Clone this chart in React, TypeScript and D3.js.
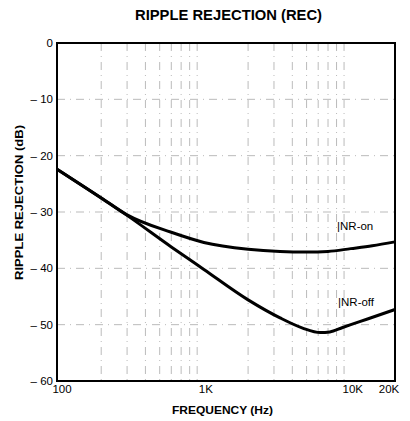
import { useCallback, useEffect, useRef } from "react";
import * as d3 from "d3";

// readings taken from the scanned chart
const nrOnFreq = [100, 200, 300, 600, 1000, 2000, 3300, 5000, 7000, 10000, 14000, 20000];
const nrOnDb = [-22.4, -27.5, -30.5, -33.6, -35.4, -36.6, -37, -37.1, -37, -36.5, -36, -35.3];

const nrOffFreq = [100, 200, 300, 600, 1000, 2000, 3300, 4700, 6200, 7200, 8800, 10000, 13000, 20000];
const nrOffDb = [-22.4, -27.5, -30.6, -36.2, -40.2, -45.6, -48.8, -50.6, -51.4, -51.3, -50.5, -50.0, -49.0, -47.3];

const yTicks = [0, -10, -20, -30, -40, -50, -60];
const yTickLabels = ["0", "– 10", "– 20", "– 30", "– 40", "– 50", "– 60"];
const xTicks = [100, 1000, 10000, 20000];
const xTickLabels = ["100", "1K", "10K", "20K"];
const gridFreqs = [200, 300, 400, 500, 600, 700, 800, 900, 2000, 3000, 4000, 5000, 6000, 7000, 8000, 9000];
const gridDb = [-10, -20, -30, -40, -50];

const App = () => {
  const width = 410;
  const height = 421;
  const margin = { top: 43, right: 15, bottom: 40, left: 57 };

  const svgRef = useRef(null);

  const renderGraph = useCallback((svgEl) => {
    const svg = d3.select(svgEl);
    svg.selectAll("*").remove();

    const font = "'Liberation Sans', Arial, sans-serif";

    const x = d3
      .scaleLog()
      .domain([100, 20000])
      .range([margin.left, width - margin.right]);

    const y = d3
      .scaleLinear()
      .domain([0, -60])
      .range([margin.top, height - margin.bottom]);

    // grid - faint dash-dot like the printed original
    const grid = svg.append("g").attr("stroke", "#b3b3b3").attr("stroke-width", 0.9).attr("fill", "none");
    grid
      .selectAll("line.v")
      .data(gridFreqs)
      .join("line")
      .attr("x1", (d) => x(d))
      .attr("x2", (d) => x(d))
      .attr("y1", y(0))
      .attr("y2", y(-60))
      .attr("stroke-dasharray", "8,5,1,5");
    grid
      .selectAll("line.h")
      .data(gridDb)
      .join("line")
      .attr("x1", x(100))
      .attr("x2", x(20000))
      .attr("y1", (d) => y(d))
      .attr("y2", (d) => y(d))
      .attr("stroke-dasharray", "8,5,1,5");

    // frame
    svg
      .append("rect")
      .attr("x", x(100))
      .attr("y", y(0))
      .attr("width", x(20000) - x(100))
      .attr("height", y(-60) - y(0))
      .attr("fill", "none")
      .attr("stroke", "#000")
      .attr("stroke-width", 2);

    // y tick labels
    svg
      .append("g")
      .selectAll("text")
      .data(yTicks)
      .join("text")
      .attr("x", margin.left - 4)
      .attr("y", (d) => y(d) + 4)
      .attr("text-anchor", "end")
      .attr("font-family", font)
      .attr("font-size", 11.5)
      .text((d, i) => yTickLabels[i]);

    // x tick labels
    svg
      .append("g")
      .selectAll("text")
      .data(xTicks)
      .join("text")
      .attr("x", (d, i) => x(d) + (i === 0 ? 5 : i === 3 ? -6 : 2))
      .attr("y", height - margin.bottom + 12)
      .attr("text-anchor", "middle")
      .attr("font-family", font)
      .attr("font-size", 11.5)
      .text((d, i) => xTickLabels[i]);

    // titles
    svg
      .append("text")
      .attr("x", 135)
      .attr("y", 20)
      .attr("font-family", font)
      .attr("font-weight", "bold")
      .attr("font-size", 14)
      .attr("textLength", 187)
      .attr("lengthAdjust", "spacingAndGlyphs")
      .text("RIPPLE REJECTION (REC)");

    svg
      .append("text")
      .attr("x", 172)
      .attr("y", 414)
      .attr("font-family", font)
      .attr("font-weight", "bold")
      .attr("font-size", 11.5)
      .attr("textLength", 101)
      .attr("lengthAdjust", "spacingAndGlyphs")
      .text("FREQUENCY (Hz)");

    svg
      .append("text")
      .attr("transform", `translate(23,280) rotate(-90)`)
      .attr("font-family", font)
      .attr("font-weight", "bold")
      .attr("font-size", 11)
      .attr("textLength", 155)
      .attr("lengthAdjust", "spacingAndGlyphs")
      .text("RIPPLE REJECTION (dB)");

    // curves
    const line = d3
      .line()
      .x((d) => x(d[0]))
      .y((d) => y(d[1]))
      .curve(d3.curveMonotoneX);

    const onData = nrOnFreq.map((f, i) => [f, nrOnDb[i]]);
    const offData = nrOffFreq.map((f, i) => [f, nrOffDb[i]]);

    [onData, offData].forEach((data) => {
      svg
        .append("path")
        .datum(data)
        .attr("fill", "none")
        .attr("stroke", "#000")
        .attr("stroke-width", 3)
        .attr("stroke-linejoin", "round")
        .attr("d", line);
    });

    // curve labels
    svg
      .append("text")
      .attr("x", x(9000) - 7)
      .attr("y", y(-33.2))
      .attr("font-family", font)
      .attr("font-size", 11.5)
      .text("|NR-on");

    svg
      .append("text")
      .attr("x", x(9000) - 6)
      .attr("y", y(-46.6))
      .attr("font-family", font)
      .attr("font-size", 11.5)
      .text("|NR-off");
  }, []);

  useEffect(() => {
    renderGraph(svgRef.current);
  }, [renderGraph]);

  return (
    <svg
      ref={svgRef}
      width={width}
      height={height}
      style={{ position: "absolute", left: 0, top: 0, background: "#fff" }}
    />
  );
};

export default App;
